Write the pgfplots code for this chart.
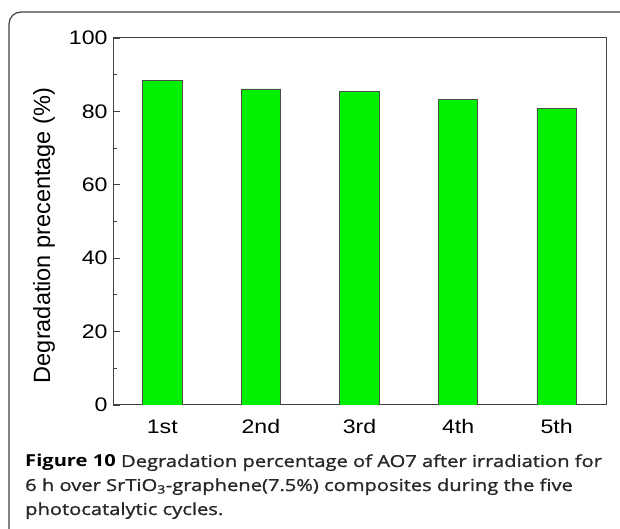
\documentclass[border=0pt]{standalone}
\usepackage{fontspec}
\setmainfont[FakeStretch=1.18]{Liberation Sans}
\newfontfamily\labfont{Liberation Sans}
\newfontfamily\capfont[FakeStretch=1.22]{Open Sans}
\newfontfamily\capsemi[FakeBold=1.2,FakeStretch=1.22]{Open Sans}
\usepackage{pgfplots}
\pgfplotsset{compat=1.18}
\definecolor{bargreen}{RGB}{0,240,0}
\definecolor{capgray}{RGB}{40,40,40}

\begin{document}
\begin{tikzpicture}[x=1bp,y=1bp]
\useasboundingbox (0,0) rectangle (620,529);
\draw[black!75, line width=1.2bp, rounded corners=12bp] (9,517) rectangle (680,-40);
\begin{axis}[
    at={(113bp,124bp)}, anchor=south west,
    scale only axis, width=493bp, height=367bp,
    ybar, bar width=0.4,
    xmin=0.5, xmax=5.5, ymin=0, ymax=100,
    xtick={1,2,3,4,5},
    xticklabels={1st,2nd,3rd,4th,5th},
    ytick={0,20,...,100},
    minor y tick num=1,
    tick align=inside,
    ytick pos=left,
    x tick style={draw=none},
    y tick style={black!75, line width=0.8bp},
    major tick length=6.5bp, minor tick length=4bp,
    axis line style={black!75, line width=1bp},
    tick label style={font=\fontsize{19.6bp}{23bp}\selectfont},
    /pgf/number format/assume math mode=true,
    yticklabel style={xshift=-2bp},
    xticklabel style={yshift=-11bp},
    ylabel={Degradation precentage (\%)},
    ylabel style={font=\labfont\fontsize{23.5bp}{27bp}\selectfont, at={(axis description cs:-0.14,0.462)}, anchor=center},
]
\addplot[fill=bargreen, draw=black!70, line width=0.8bp] coordinates {
    (1,88.4) (2,86.1) (3,85.4) (4,83.2) (5,80.7)
};
\end{axis}
\begin{scope}[every node/.style={anchor=base west, inner sep=0, text=capgray}]
\node at (25,62) {\fontsize{16.5bp}{24bp}\capfont\bfseries\color{black}Figure 10 \capsemi\mdseries\color{capgray}Degradation percentage of AO7 after irradiation for};
\node at (25,38) {\fontsize{16.5bp}{24bp}\capsemi 6 h over SrTiO\textsubscript{3}-graphene(7.5\%) composites during the five};
\node at (25,14) {\fontsize{16.5bp}{24bp}\capsemi photocatalytic cycles.};
\end{scope}
\end{tikzpicture}
\end{document}
